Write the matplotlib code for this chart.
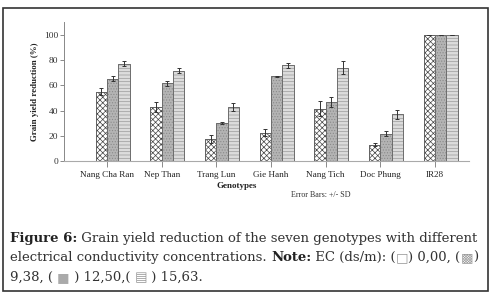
import matplotlib
matplotlib.use("Agg")
import matplotlib.pyplot as plt
from matplotlib.patches import Rectangle
import numpy as np

genotypes = ["Nang Cha Ran", "Nep Than", "Trang Lun", "Gie Hanh", "Nang Tich", "Doc Phung", "IR28"]
ec_levels = ["0,00", "9,38", "12,50", "15,63"]
ec_000 = [0, 0, 0, 0, 0, 0, 0]
ec_938 = [55, 43, 17.5, 22.5, 41.5, 13, 100]
ec_1250 = [65, 61.5, 30, 67, 47, 21.5, 100]
ec_1563 = [77, 71.5, 43, 76, 74, 37, 100]
sd_000 = [0, 0, 0, 0, 0, 0, 0]
sd_938 = [2.5, 4, 3, 2.5, 6, 1, 0]
sd_1250 = [2, 2, 1, 0.5, 4, 2, 0]
sd_1563 = [2, 2, 3, 2, 5, 3.5, 0]
yticks = [0, 20, 40, 60, 80, 100]

plt.rcParams['hatch.linewidth'] = 0.5
fig = plt.figure(figsize=(4.92, 2.95), dpi=100)
ax = fig.add_axes([0.130, 0.454, 0.823, 0.471])

x = np.arange(len(genotypes))
w = 0.207
series = [ec_000, ec_938, ec_1250, ec_1563]
sds = [sd_000, sd_938, sd_1250, sd_1563]
faces = ["white", "white", "#b4b4b4", "#dcdcdc"]
hatches = [None, "xxxxxx", "......", "-----"]
hcolors = ["#555555", "#444444", "#8a8a8a", "#9a9a9a"]
for i, (vals, sd) in enumerate(zip(series, sds)):
    pos = x + (i - 1.5) * w
    bars = ax.bar(pos, vals, width=w, color=faces[i], edgecolor=hcolors[i],
                  hatch=hatches[i], linewidth=0.6)
    ax.bar(pos, vals, width=w, color="none", edgecolor="#666666", linewidth=0.6)
    if i > 0:
        ax.errorbar(pos, vals, yerr=sd, fmt="none", ecolor="#333333",
                    elinewidth=0.7, capsize=1.5, capthick=0.7)

ax.set_xlim(-0.79, 6.62)
ax.set_ylim(0, 110)
ax.set_yticks(yticks)
ax.set_yticklabels([str(t) for t in yticks], family="Liberation Serif", fontsize=6.8, color="#333333")
ax.set_xticks(x)
ax.set_xticklabels(genotypes, family="Liberation Serif", fontsize=6.6, color="#222222")
ax.tick_params(axis="y", length=3, width=0.6, color="#777777", pad=1)
ax.tick_params(axis="x", length=4, width=0.6, color="#777777", pad=3)
for s in ["top", "right"]:
    ax.spines[s].set_visible(False)
ax.spines["left"].set_color("#888888")
ax.spines["left"].set_linewidth(0.7)
ax.spines["bottom"].set_color("#aaaaaa")
ax.spines["bottom"].set_linewidth(0.8)
ax.set_ylabel("Grain yield reduction (%)", family="Liberation Serif", fontsize=6.4,
              fontweight="bold", labelpad=4, color="#222222")

fig.text(0.482, 0.368, "Genotypes", family="Liberation Serif", fontsize=6.5,
         fontweight="bold", ha="center", va="center", color="#222222")
fig.text(0.653, 0.338, "Error Bars: +/- SD", family="Liberation Serif", fontsize=5.8,
         ha="center", va="center", color="#333333")

# border
fig.patches.append(Rectangle((0.006, 0.014), 0.986, 0.959, transform=fig.transFigure,
                             fill=False, edgecolor="#333333", linewidth=1.2))

# caption with mixed styles
fam = ["DejaVu Serif", "DejaVu Sans"]
fs = 9.55
lines = [
    [("Figure 6:", "bold", "#222222"), (" Grain yield reduction of the seven genotypes with different", "normal", "#333333")],
    [("electrical conductivity concentrations. ", "normal", "#333333"), ("Note:", "bold", "#222222"),
     (" EC (ds/m): (", "normal", "#333333"), ("□", "normal", "#999999"), (") 0,00, (", "normal", "#333333"),
     ("▩", "normal", "#999999"), (")", "normal", "#333333")],
    [("9,38, ( ", "normal", "#333333"), ("■", "normal", "#aaaaaa"), (" ) 12,50,( ", "normal", "#333333"),
     ("▤", "normal", "#999999"), (" ) 15,63.", "normal", "#333333")],
]
ys = [295 - 242, 295 - 261, 295 - 281]
renderer = fig.canvas.get_renderer()
for segs, yp in zip(lines, ys):
    xp = 10
    for txt, wt, col in segs:
        t = fig.text(xp / 492, yp / 295, txt, family=fam, fontsize=fs, fontweight=wt,
                     color=col, ha="left", va="baseline")
        bb = t.get_window_extent(renderer=renderer)
        xp += bb.width

fig.savefig("out.png", dpi=100)
